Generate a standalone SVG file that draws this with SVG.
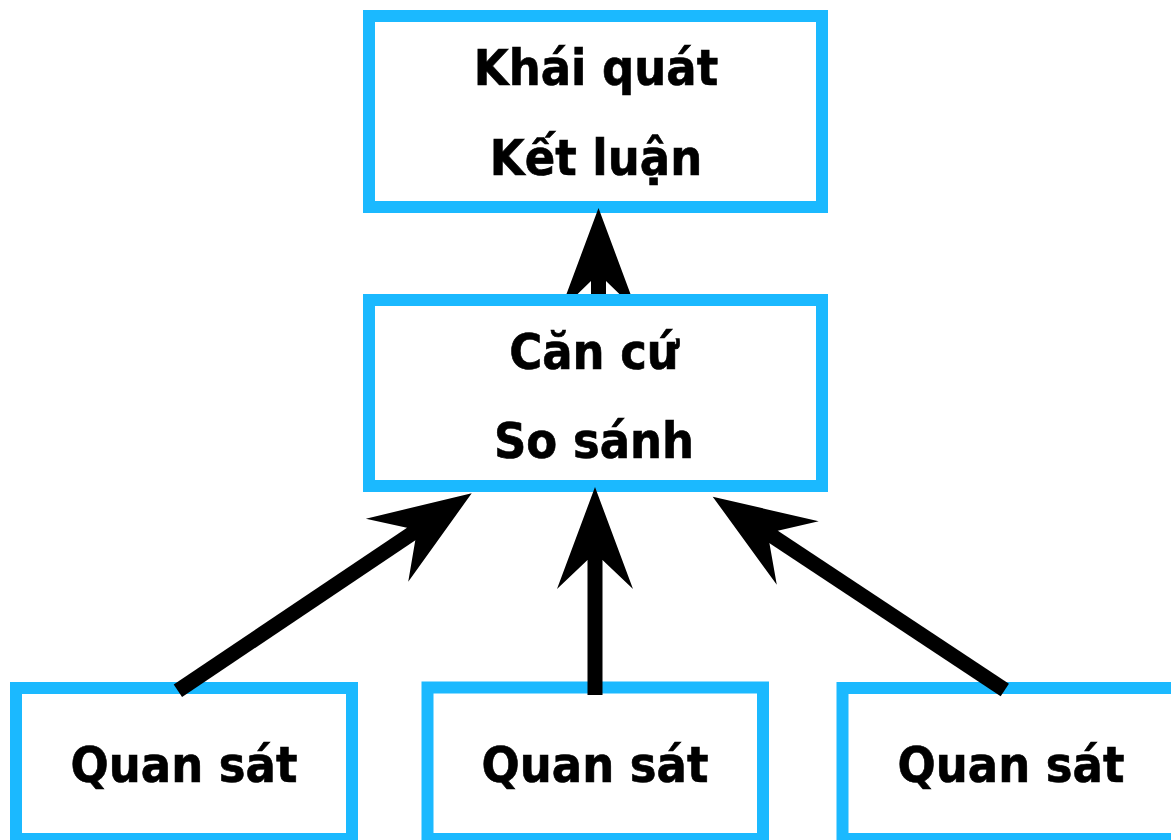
<svg xmlns="http://www.w3.org/2000/svg" width="1171" height="840" viewBox="0 0 1171 840">
  <style>
    .box { fill: #ffffff; stroke: #1bb9ff; stroke-width: 12; }
    .lbl { font-family: "DejaVu Sans Condensed", "DejaVu Sans", sans-serif; font-weight: bold; font-size: 50px; fill: #000000; stroke: #000000; stroke-width: 0.6; text-anchor: middle; }
    .shaft { stroke: #000000; stroke-width: 15; fill: none; }
    .head { fill: #000000; }
  </style>
  <defs>
    <path id="barb" d="M0,0 L-102,38 L-73,7.5 L-73,-7.5 L-102,-38 Z"/>
  </defs>
  <rect width="1171" height="840" fill="#ffffff"/>

  <g id="node-top">
    <rect class="box" x="369" y="16" width="453" height="191"/>
    <text class="lbl" x="596" y="85">Khái quát</text>
    <text class="lbl" x="596" y="175">Kết luận</text>
  </g>

  <g id="node-middle">
    <rect class="box" x="369" y="300" width="453" height="186"/>
    <text class="lbl" x="594" y="369">Căn cứ</text>
    <text class="lbl" x="594" y="458">So sánh</text>
  </g>

  <g id="node-obs-left">
    <rect class="box" x="16" y="688" width="336" height="151"/>
    <text class="lbl" x="184" y="782">Quan sát</text>
  </g>

  <g id="node-obs-center">
    <rect class="box" x="427.5" y="687.5" width="335.5" height="151.5"/>
    <text class="lbl" x="595" y="782">Quan sát</text>
  </g>

  <g id="node-obs-right">
    <rect class="box" x="842.5" y="688" width="336" height="151"/>
    <text class="lbl" x="1011" y="782">Quan sát</text>
  </g>

  <g id="connectors">
    <!-- middle to top (truncated by middle box top edge) -->
    <polygon class="head" points="598.5,208 630.5,294 619.4,294 606,281 606,294 591,294 591,281 577.6,294 566.5,294"/>
    <!-- center observation to middle -->
    <line class="shaft" x1="595" y1="695" x2="595" y2="537"/>
    <use href="#barb" class="head" transform="translate(595,487) rotate(-90)"/>
    <!-- left observation to middle -->
    <line class="shaft" x1="177.9" y1="690.8" x2="430.2" y2="521.2"/>
    <use href="#barb" class="head" transform="translate(471.7,493.3) rotate(-33.9)"/>
    <!-- right observation to middle -->
    <line class="shaft" x1="1004.8" y1="690" x2="754.4" y2="524.3"/>
    <use href="#barb" class="head" transform="translate(712.7,496.7) rotate(-146.5)"/>
  </g>
</svg>
